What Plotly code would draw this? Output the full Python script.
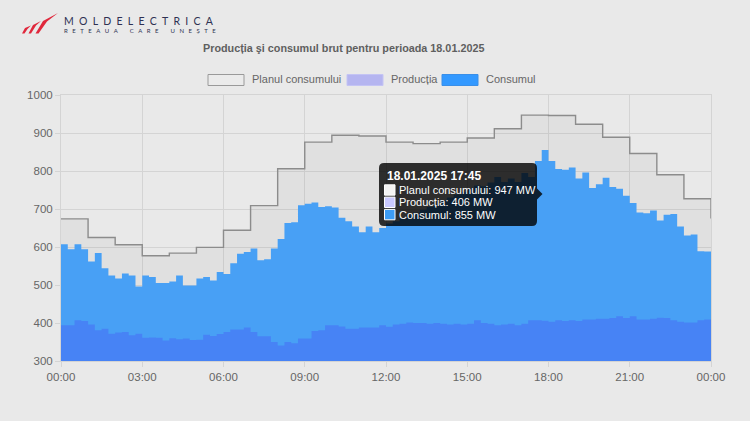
import pandas as pd
import plotly.graph_objects as go

# ---------------- data ----------------
plan = [674, 625, 606, 577, 584, 599, 644, 709, 806, 876, 894, 892,
        876, 872, 876, 887, 911, 947, 946, 923, 889, 846, 790, 727, 675]

productie = [394, 394, 407, 405, 396, 381, 385, 372, 375, 376, 368, 372,
             361, 362, 361, 354, 360, 357, 359, 355, 356, 369, 366, 371,
             376, 383, 383, 388, 376, 365, 365, 350, 341, 350, 347, 359,
             359, 379, 381, 394, 394, 391, 385, 385, 388, 388, 388, 394,
             390, 396, 398, 401, 400, 400, 398, 400, 398, 396, 398, 396,
             398, 407, 400, 398, 394, 396, 398, 394, 398, 407, 407, 406,
             403, 407, 405, 407, 405, 409, 409, 411, 411, 413, 418, 413,
             418, 409, 409, 411, 414, 413, 407, 403, 401, 401, 407, 409]

consum = [607, 594, 607, 594, 562, 584, 544, 525, 517, 530, 525, 496,
          525, 521, 505, 505, 509, 525, 499, 499, 517, 521, 512, 534,
          529, 557, 582, 587, 596, 565, 568, 596, 621, 663, 665, 710,
          714, 717, 705, 707, 704, 677, 668, 654, 639, 654, 639, 650,
          662, 668, 675, 683, 690, 698, 705, 712, 722, 730, 738, 745,
          755, 762, 760, 770, 784, 771, 780, 771, 795, 784, 826, 855,
          826, 805, 803, 809, 780, 796, 755, 765, 782, 758, 753, 735,
          716, 691, 689, 696, 670, 685, 687, 654, 630, 633, 589, 588]

x_tick_labels = ["00:00", "03:00", "06:00", "09:00", "12:00",
                 "15:00", "18:00", "21:00", "00:00"]
y_ticks = [300, 400, 500, 600, 700, 800, 900, 1000]

series_names = ["Planul consumului", "Producția", "Consumul"]
title_text = "Producția şi consumul brut pentru perioada 18.01.2025"
tooltip_title = "18.01.2025 17:45"
tip_quarter = 71   # 17:45
tip_hour = 17

# ---------------- geometry helpers ----------------
W, H = 750, 421
L, R, T, B = 61, 711, 95, 361


def px(x):
    return (x - L) / (R - L)


def py(y):
    return (B - y) / (B - T)


def poly(points):
    return "M " + " L ".join(f"{px(a):.5f},{py(b):.5f}" for a, b in points) + " Z"


def rrect(x0, y0, x1, y1, r):
    p = lambda a, b: f"{px(a):.5f},{py(b):.5f}"
    return (f"M {p(x0 + r, y0)} L {p(x1 - r, y0)} Q {p(x1, y0)} {p(x1, y0 + r)} "
            f"L {p(x1, y1 - r)} Q {p(x1, y1)} {p(x1 - r, y1)} "
            f"L {p(x0 + r, y1)} Q {p(x0, y1)} {p(x0, y1 - r)} "
            f"L {p(x0, y0 + r)} Q {p(x0, y0)} {p(x0 + r, y0)} Z")


FONT = "Liberation Sans, Arial, Helvetica, sans-serif"
TXT = "#666666"
GRID = "#d4d4d4"
BG = "#e9e9e9"
C_CONS = "#48a0f5"
C_PROD = "#4783f5"

t15 = pd.date_range("2025-01-18 00:00", periods=len(consum) + 1, freq="15min")
t60 = pd.date_range("2025-01-18 00:00", periods=len(plan), freq="60min")
tick_pos = pd.date_range("2025-01-18 00:00", periods=len(x_tick_labels), freq="3h")

fig = go.Figure()
fig.add_trace(go.Scatter(
    x=t60, y=plan, mode="lines", name=series_names[0],
    line=dict(shape="hv", color="#8c8c8c", width=1.4),
    fill="tozeroy", fillcolor="rgba(0,0,0,0.035)", hoverinfo="skip"))
fig.add_trace(go.Scatter(
    x=t15, y=consum + [consum[-1]], mode="lines", name=series_names[2],
    line=dict(shape="hv", color=C_CONS, width=0),
    fill="tozeroy", fillcolor=C_CONS, hoverinfo="skip"))
fig.add_trace(go.Scatter(
    x=t15, y=productie + [productie[-1]], mode="lines", name=series_names[1],
    line=dict(shape="hv", color=C_PROD, width=0),
    fill="tozeroy", fillcolor=C_PROD, hoverinfo="skip"))

shapes = []
annotations = []

# title
annotations.append(dict(text=f"<b>{title_text}</b>", x=px(343), y=py(48),
                        xref="paper", yref="paper", showarrow=False,
                        xanchor="center", yanchor="middle",
                        font=dict(family=FONT, size=10.8, color="#5f5f5f")))

# custom legend
legend_items = [
    (208, series_names[0], "#ebebeb", "#9a9a9a"),
    (347, series_names[1], "#b5b5f0", "#c4c4f4"),
    (442, series_names[2], "#3399ff", "#3a8fe8"),
]
for x0, name, fc, lc in legend_items:
    shapes.append(dict(type="rect", xref="paper", yref="paper",
                       x0=px(x0), x1=px(x0 + 36), y0=py(74.5), y1=py(85.5),
                       fillcolor=fc, line=dict(color=lc, width=1), layer="above"))
    annotations.append(dict(text=name, x=px(x0 + 42), y=py(79.5), xref="paper", yref="paper",
                            showarrow=False, xanchor="left", yanchor="middle",
                            font=dict(family=FONT, size=11, color=TXT)))

# logo
logo_red = "#e0283c"
for pts in [
    [(22, 33.5), (25, 28), (31, 25.5), (27.5, 29), (24.5, 33.5)],
    [(28.5, 33.5), (33, 25), (41, 21), (36, 25.5), (31, 33.5)],
    [(35.5, 33.5), (43, 21), (58, 13), (47, 21.5), (38.5, 33.5)],
]:
    shapes.append(dict(type="path", xref="paper", yref="paper", path=poly(pts),
                       fillcolor=logo_red, line=dict(width=0), layer="above"))
annotations.append(dict(text="\u2002".join("MOLDELECTRICA"), x=px(62), y=py(21.5),
                        xref="paper", yref="paper", showarrow=False,
                        xanchor="left", yanchor="middle",
                        font=dict(family="Lato, sans-serif", size=10.5, color="#2e3152")))
sp = "\u2002\u2009\u2009"
wg = "\u2003\u2003\u2002"
annotations.append(dict(text=sp.join("REȚEAUA") + wg + sp.join("CARE") + wg + sp.join("UNEȘTE"),
                        x=px(62), y=py(30), xref="paper", yref="paper", showarrow=False,
                        xanchor="left", yanchor="middle",
                        font=dict(family="Lato, sans-serif", size=6, color="#2e3152")))

# tooltip (17:45)
shapes.append(dict(type="path", xref="paper", yref="paper",
                   path=rrect(379, 163, 537, 226, 5),
                   fillcolor="rgba(0,0,0,0.8)", line=dict(width=0), layer="above"))
shapes.append(dict(type="path", xref="paper", yref="paper",
                   path=poly([(537, 188.5), (542.5, 194), (537, 199.5)]),
                   fillcolor="rgba(0,0,0,0.8)", line=dict(width=0), layer="above"))
annotations.append(dict(text=f"<b>{tooltip_title}</b>", x=px(384.5), y=py(176),
                        xref="paper", yref="paper", showarrow=False,
                        xanchor="left", yanchor="middle",
                        font=dict(family=FONT, size=12, color="#ffffff")))
tip_rows = [
    (f"{series_names[0]}: {plan[tip_hour]} MW", "#f4f4f4"),
    (f"{series_names[1]}: {productie[tip_quarter]} MW", "#c9c9ff"),
    (f"{series_names[2]}: {consum[tip_quarter]} MW", "#3d9df5"),
]
for k, (txt, col) in enumerate(tip_rows):
    yc = 190 + 12.3 * k
    shapes.append(dict(type="rect", xref="paper", yref="paper",
                       x0=px(384.5), x1=px(395), y0=py(yc - 5.2), y1=py(yc + 5.2),
                       fillcolor=col, line=dict(color="#ffffff", width=1), layer="above"))
    annotations.append(dict(text=txt, x=px(396.5), y=py(yc), xref="paper", yref="paper",
                            showarrow=False, xanchor="left", yanchor="middle",
                            font=dict(family=FONT, size=11, color="#ffffff")))

fig.update_layout(
    width=W, height=H,
    margin=dict(l=L, r=W - R, t=T, b=H - B, pad=0),
    paper_bgcolor=BG, plot_bgcolor=BG,
    showlegend=False,
    shapes=shapes, annotations=annotations,
    font=dict(family=FONT, color=TXT, size=11.5),
    xaxis=dict(type="date", range=[t15[0], t15[-1]],
               tickmode="array", tickvals=list(tick_pos), ticktext=x_tick_labels,
               showgrid=True, gridcolor=GRID, gridwidth=1,
               ticks="outside", ticklen=5, tickcolor=GRID,
               showline=True, linecolor=GRID, mirror=True,
               zeroline=False, tickfont=dict(family=FONT, size=11.5, color=TXT)),
    yaxis=dict(range=[300, 1000], tickmode="array", tickvals=y_ticks,
               showgrid=True, gridcolor=GRID, gridwidth=1,
               ticks="outside", ticklen=5, tickcolor=GRID,
               showline=True, linecolor=GRID, mirror=True,
               zeroline=False, tickfont=dict(family=FONT, size=11.5, color=TXT)),
)

fig.write_html(
    "out.html",
    config={"displayModeBar": False},
    post_script="document.body.style.margin='0px';"
                "document.body.style.background='#e9e9e9';"
                "document.documentElement.style.background='#e9e9e9';",
)
